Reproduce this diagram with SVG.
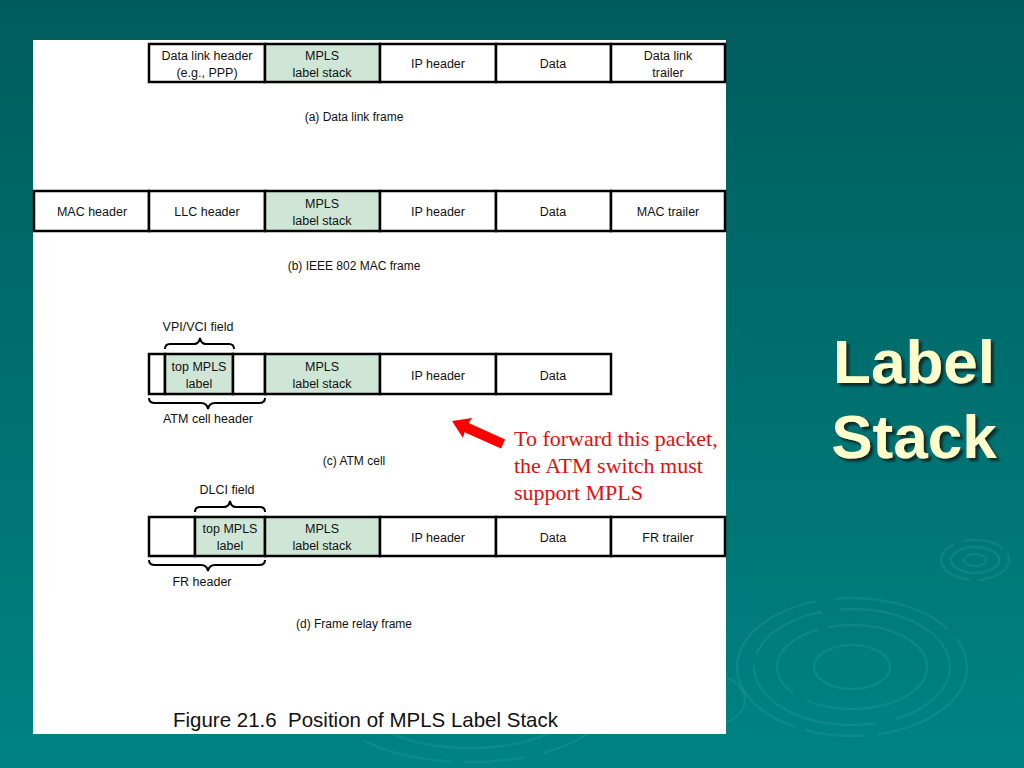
<svg xmlns="http://www.w3.org/2000/svg" width="1024" height="768" viewBox="0 0 1024 768">
<defs>
<linearGradient id="bg" x1="0" y1="0" x2="0" y2="1">
<stop offset="0" stop-color="#005c5c"/>
<stop offset="1" stop-color="#008383"/>
</linearGradient>
<filter id="shadow" x="-10%" y="-10%" width="130%" height="130%">
<feDropShadow dx="3" dy="3" stdDeviation="1" flood-color="#0c2424" flood-opacity="0.85"/>
</filter>
<style>
.cell{fill:#fff;stroke:#000;stroke-width:2.5}
.g{fill:#cfe6d6;stroke:#000;stroke-width:2.5}
.t{font-family:"Liberation Sans",Arial,sans-serif;font-size:12.5px;fill:#111;text-anchor:middle}
.cap{font-family:"Liberation Sans",Arial,sans-serif;font-size:12px;fill:#111;text-anchor:middle}
.br{fill:none;stroke:#000;stroke-width:2}
.rip{fill:none;stroke:#3aa8a8;stroke-opacity:0.22;stroke-width:2.5}
.title{font-family:"Liberation Sans",Arial,sans-serif;font-weight:bold;font-size:62px;text-anchor:middle;fill:#ffffcc}
.note{font-family:"Liberation Serif","Times New Roman",serif;font-size:22px;fill:#e01010}
</style>
</defs>
<rect width="1024" height="768" fill="url(#bg)"/>
<g id="ripples">
<ellipse class="rip" cx="852" cy="667" rx="115" ry="69" stroke-dasharray="120 14 60 10 200 18"/>
<ellipse class="rip" cx="852" cy="667" rx="98" ry="58" stroke-dasharray="80 20 150 12"/>
<ellipse class="rip" cx="852" cy="667" rx="75" ry="42" stroke-dasharray="140 16 90 10"/>
<ellipse class="rip" cx="852" cy="667" rx="38" ry="22"/>
<ellipse class="rip" cx="975" cy="560" rx="34" ry="20" stroke-dasharray="40 8 60 10"/>
<ellipse class="rip" cx="975" cy="560" rx="24" ry="13"/>
<ellipse class="rip" cx="975" cy="560" rx="11" ry="6"/>
<ellipse class="rip" cx="470" cy="700" rx="140" ry="62" stroke-dasharray="90 20 60 14"/>
<ellipse class="rip" cx="470" cy="700" rx="110" ry="48"/>
<ellipse class="rip" cx="700" cy="700" rx="45" ry="28"/>
</g>
<rect id="panel" x="33" y="40" width="693" height="694" fill="#fff"/>

<g id="frame-a">
<rect class="cell" x="149" y="44" width="116" height="38"/>
<rect class="g" x="265" y="44" width="115" height="38"/>
<rect class="cell" x="380" y="44" width="116" height="38"/>
<rect class="cell" x="496" y="44" width="115" height="38"/>
<rect class="cell" x="611" y="44" width="114" height="38"/>
<text class="t" x="207" y="60">Data link header</text>
<text class="t" x="207" y="77">(e.g., PPP)</text>
<text class="t" x="322" y="60">MPLS</text>
<text class="t" x="322" y="77">label stack</text>
<text class="t" x="438" y="68">IP header</text>
<text class="t" x="553" y="68">Data</text>
<text class="t" x="668" y="60">Data link</text>
<text class="t" x="668" y="77">trailer</text>
<text class="cap" x="354" y="121">(a) Data link frame</text>
</g>

<g id="frame-b">
<rect class="cell" x="34" y="191" width="115" height="40"/>
<rect class="cell" x="149" y="191" width="116" height="40"/>
<rect class="g" x="265" y="191" width="115" height="40"/>
<rect class="cell" x="380" y="191" width="116" height="40"/>
<rect class="cell" x="496" y="191" width="115" height="40"/>
<rect class="cell" x="611" y="191" width="114" height="40"/>
<text class="t" x="92" y="216">MAC header</text>
<text class="t" x="207" y="216">LLC header</text>
<text class="t" x="322" y="208">MPLS</text>
<text class="t" x="322" y="225">label stack</text>
<text class="t" x="438" y="216">IP header</text>
<text class="t" x="553" y="216">Data</text>
<text class="t" x="668" y="216">MAC trailer</text>
<text class="cap" x="354" y="270">(b) IEEE 802 MAC frame</text>
</g>

<g id="frame-c">
<rect class="cell" x="149" y="354" width="16" height="40"/>
<rect class="g" x="165" y="354" width="68" height="40"/>
<rect class="cell" x="233" y="354" width="32" height="40"/>
<rect class="g" x="265" y="354" width="115" height="40"/>
<rect class="cell" x="380" y="354" width="116" height="40"/>
<rect class="cell" x="496" y="354" width="115" height="40"/>
<text class="t" x="199" y="371">top MPLS</text>
<text class="t" x="199" y="388">label</text>
<text class="t" x="322" y="371">MPLS</text>
<text class="t" x="322" y="388">label stack</text>
<text class="t" x="438" y="380">IP header</text>
<text class="t" x="553" y="380">Data</text>
<text class="t" x="198" y="331">VPI/VCI field</text>
<path class="br" d="M165 349 Q165 344 170 344 L194 344 Q199 344 200 338 Q201 344 206 344 L229 344 Q234 344 234 349"/>
<path class="br" d="M149 398 Q149 403 155 403 L201 403 Q207 403 208 409 Q209 403 215 403 L259 403 Q265 403 265 398"/>
<text class="t" x="208" y="423">ATM cell header</text>
<text class="cap" x="354" y="465">(c) ATM cell</text>
</g>

<g id="frame-d">
<rect class="cell" x="149" y="517" width="46" height="39"/>
<rect class="g" x="195" y="517" width="70" height="39"/>
<rect class="g" x="265" y="517" width="115" height="39"/>
<rect class="cell" x="380" y="517" width="116" height="39"/>
<rect class="cell" x="496" y="517" width="115" height="39"/>
<rect class="cell" x="611" y="517" width="114" height="39"/>
<text class="t" x="230" y="533">top MPLS</text>
<text class="t" x="230" y="550">label</text>
<text class="t" x="322" y="533">MPLS</text>
<text class="t" x="322" y="550">label stack</text>
<text class="t" x="438" y="542">IP header</text>
<text class="t" x="553" y="542">Data</text>
<text class="t" x="668" y="542">FR trailer</text>
<text class="t" x="227" y="494">DLCI field</text>
<path class="br" d="M195 512 Q195 507 200 507 L224 507 Q229 507 230 501 Q231 507 236 507 L260 507 Q265 507 265 512"/>
<path class="br" d="M149 560 Q149 565 155 565 L201 565 Q207 565 208 571 Q209 565 215 565 L259 565 Q265 565 265 560"/>
<text class="t" x="202" y="586">FR header</text>
<text class="cap" x="354" y="628">(d) Frame relay frame</text>
</g>

<text id="figcap" x="173" y="727" font-family="Liberation Sans,Arial,sans-serif" font-size="21" fill="#111" textLength="385" lengthAdjust="spacingAndGlyphs">Figure 21.6&#160; Position of MPLS Label Stack</text>

<g id="annotation">
<polygon fill="#ff0000" points="0,0 17,-11 16,-5 56,-5 56,5 16,5 17,11" transform="translate(452,421) rotate(24.3)"/>
<text class="note" x="514" y="446">To forward this packet,</text>
<text class="note" x="514" y="473">the ATM switch must</text>
<text class="note" x="514" y="500">support MPLS</text>
</g>

<g id="title" filter="url(#shadow)">
<text class="title" x="914" y="383">Label</text>
<text class="title" x="914" y="458">Stack</text>
</g>
</svg>
